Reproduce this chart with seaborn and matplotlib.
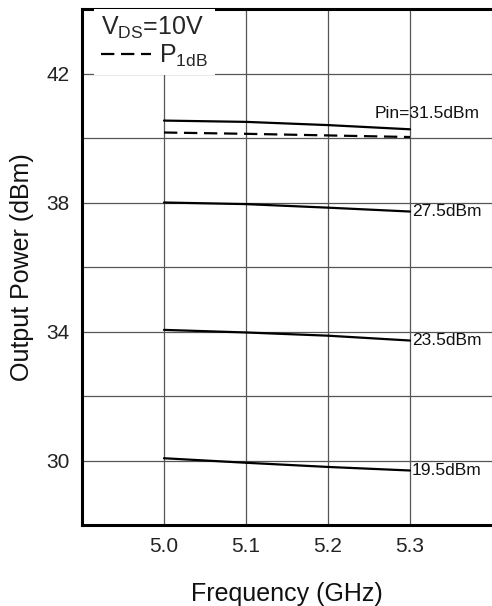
import numpy as np
import pandas as pd
import matplotlib
matplotlib.use("Agg")
import matplotlib.pyplot as plt
import seaborn as sns

freq = [5.0, 5.1, 5.2, 5.3]
pout_31_5 = [40.54, 40.50, 40.40, 40.27]
p1db = [40.17, 40.13, 40.08, 40.03]
pout_27_5 = [38.00, 37.95, 37.84, 37.72]
pout_23_5 = [34.05, 33.97, 33.87, 33.72]
pout_19_5 = [30.07, 29.93, 29.80, 29.69]
curve_labels = ["Pin=31.5dBm", "27.5dBm", "23.5dBm", "19.5dBm"]
x_ticks = [5.0, 5.1, 5.2, 5.3]
y_ticks = [30, 34, 38, 42]

sns.set_style("white")
plt.rcParams['font.family'] = ['Liberation Sans', 'DejaVu Sans']
plt.rcParams['mathtext.fontset'] = 'custom'
plt.rcParams['mathtext.rm'] = 'Liberation Sans'

fig = plt.figure(figsize=(4.92, 6.06), dpi=100)
ax = fig.add_axes([82/492, 1-525/606, 1-82/492, (525-9)/606])

solid_series = [pout_31_5, pout_27_5, pout_23_5, pout_19_5]
rows = []
for name, vals in zip(curve_labels, solid_series):
    for f, v in zip(freq, vals):
        rows.append({"freq": f, "pout": v, "curve": name})
df = pd.DataFrame(rows)

sns.lineplot(data=df, x="freq", y="pout", units="curve", estimator=None,
             color="black", lw=1.6, ax=ax, zorder=3, legend=False)
dfd = pd.DataFrame({"freq": freq, "pout": p1db})
sns.lineplot(data=dfd, x="freq", y="pout", color="black", lw=1.6,
             linestyle=(0, (6, 3)), ax=ax, zorder=3,
             label=r"P$_{\rm 1dB}$")

ax.set_xlim(4.9, 5.4)
ax.set_ylim(28, 44)
ax.set_xticks(x_ticks)
ax.set_xticklabels([f"{t:.1f}" for t in x_ticks])
grid_y = np.arange(28, 44.1, 2)
ax.set_yticks(grid_y)
ax.set_yticklabels(["" if v not in y_ticks else f"{int(v)}" for v in grid_y])
ax.grid(True, color="#555555", lw=0.9)
ax.set_axisbelow(True)
ax.tick_params(axis="both", length=0, labelsize=15, colors="#222222")
ax.tick_params(axis="x", pad=9)
ax.tick_params(axis="y", pad=9)

ax.set_xlabel("Frequency (GHz)", fontsize=18, labelpad=18, color="#111111")
ax.set_ylabel("Output Power (dBm)", fontsize=18, labelpad=9, color="#111111")

for side in ["left", "top", "bottom"]:
    ax.spines[side].set_linewidth(2.2)
    ax.spines[side].set_color("black")
ax.spines["right"].set_visible(False)

# curve labels
ax.text(5.385, pout_31_5[-1] + 0.5, curve_labels[0], ha="right", va="center",
        fontsize=12.5, color="#111111")
for name, vals in zip(curve_labels[1:], solid_series[1:]):
    ax.text(5.302, vals[-1], name, ha="left", va="center", fontsize=12.5,
            color="#111111")

leg = ax.legend(loc="upper left", bbox_to_anchor=(0.03, 1.0),
                title=r"V$_{\rm DS}$=10V", fontsize=18,
                title_fontsize=18, frameon=True, fancybox=False,
                handlelength=2.0, handletextpad=0.35, borderaxespad=0.0,
                borderpad=0.25, labelspacing=0.05)
leg.get_frame().set_edgecolor("none")
leg.get_frame().set_facecolor("white")
leg.get_frame().set_alpha(1.0)
leg._legend_box.align = "left"
leg.set_zorder(5)

fig.savefig("out.png", dpi=100)
